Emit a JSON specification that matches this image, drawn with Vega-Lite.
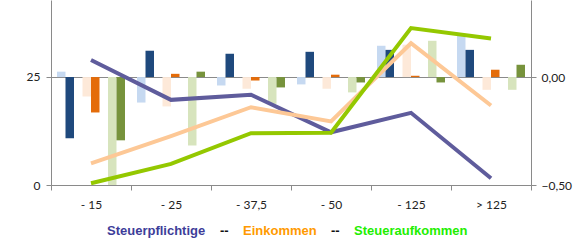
{
  "$schema": "https://vega.github.io/schema/vega-lite/v6.json",
  "width": 480,
  "height": 185,
  "autosize": {"type": "none"},
  "padding": {"left": 51, "top": 0, "right": 54, "bottom": 55},
  "config": {
    "view": {"stroke": null},
    "axis": {
      "domainColor": "#8a8a8a",
      "tickColor": "#8a8a8a",
      "gridColor": "#8a8a8a",
      "labelFont": "Lato",
      "labelFontSize": 12,
      "labelColor": "#222222",
      "tickSize": 5,
      "title": null
    }
  },
  "datasets": {
    "bars": [
      {"cat": "- 15", "series": "Steuerpflichtige 1", "value": 0.025},
      {"cat": "- 15", "series": "Steuerpflichtige 2", "value": -0.284},
      {"cat": "- 15", "series": "Einkommen 1", "value": -0.09},
      {"cat": "- 15", "series": "Einkommen 2", "value": -0.164},
      {"cat": "- 15", "series": "Steueraufkommen 1", "value": -0.5},
      {"cat": "- 15", "series": "Steueraufkommen 2", "value": -0.293},
      {"cat": "- 25", "series": "Steuerpflichtige 1", "value": -0.118},
      {"cat": "- 25", "series": "Steuerpflichtige 2", "value": 0.122},
      {"cat": "- 25", "series": "Einkommen 1", "value": -0.136},
      {"cat": "- 25", "series": "Einkommen 2", "value": 0.015},
      {"cat": "- 25", "series": "Steueraufkommen 1", "value": -0.317},
      {"cat": "- 25", "series": "Steueraufkommen 2", "value": 0.025},
      {"cat": "- 37,5", "series": "Steuerpflichtige 1", "value": -0.039},
      {"cat": "- 37,5", "series": "Steuerpflichtige 2", "value": 0.108},
      {"cat": "- 37,5", "series": "Einkommen 1", "value": -0.054},
      {"cat": "- 37,5", "series": "Einkommen 2", "value": -0.016},
      {"cat": "- 37,5", "series": "Steueraufkommen 1", "value": -0.124},
      {"cat": "- 37,5", "series": "Steueraufkommen 2", "value": -0.048},
      {"cat": "- 50", "series": "Steuerpflichtige 1", "value": -0.034},
      {"cat": "- 50", "series": "Steuerpflichtige 2", "value": 0.117},
      {"cat": "- 50", "series": "Einkommen 1", "value": -0.054},
      {"cat": "- 50", "series": "Einkommen 2", "value": 0.011},
      {"cat": "- 50", "series": "Steueraufkommen 1", "value": -0.071},
      {"cat": "- 50", "series": "Steueraufkommen 2", "value": -0.025},
      {"cat": "- 125", "series": "Steuerpflichtige 1", "value": 0.145},
      {"cat": "- 125", "series": "Steuerpflichtige 2", "value": 0.126},
      {"cat": "- 125", "series": "Einkommen 1", "value": 0.15},
      {"cat": "- 125", "series": "Einkommen 2", "value": 0.006},
      {"cat": "- 125", "series": "Steueraufkommen 1", "value": 0.168},
      {"cat": "- 125", "series": "Steueraufkommen 2", "value": -0.025},
      {"cat": "> 125", "series": "Steuerpflichtige 1", "value": 0.191},
      {"cat": "> 125", "series": "Steuerpflichtige 2", "value": 0.126},
      {"cat": "> 125", "series": "Einkommen 1", "value": -0.059},
      {"cat": "> 125", "series": "Einkommen 2", "value": 0.034},
      {"cat": "> 125", "series": "Steueraufkommen 1", "value": -0.059},
      {"cat": "> 125", "series": "Steueraufkommen 2", "value": 0.057}
    ],
    "lines": [
      {"cat": "- 15", "series": "Steuerpflichtige", "value": 28.9},
      {"cat": "- 25", "series": "Steuerpflichtige", "value": 19.7},
      {"cat": "- 37,5", "series": "Steuerpflichtige", "value": 20.9},
      {"cat": "- 50", "series": "Steuerpflichtige", "value": 12.2},
      {"cat": "- 125", "series": "Steuerpflichtige", "value": 16.7},
      {"cat": "> 125", "series": "Steuerpflichtige", "value": 1.55},
      {"cat": "- 15", "series": "Einkommen", "value": 5.0},
      {"cat": "- 25", "series": "Einkommen", "value": 11.3},
      {"cat": "- 37,5", "series": "Einkommen", "value": 18.0},
      {"cat": "- 50", "series": "Einkommen", "value": 14.7},
      {"cat": "- 125", "series": "Einkommen", "value": 32.8},
      {"cat": "> 125", "series": "Einkommen", "value": 18.4},
      {"cat": "- 15", "series": "Steueraufkommen", "value": 0.4},
      {"cat": "- 25", "series": "Steueraufkommen", "value": 4.9},
      {"cat": "- 37,5", "series": "Steueraufkommen", "value": 12.0},
      {"cat": "- 50", "series": "Steueraufkommen", "value": 12.1},
      {"cat": "- 125", "series": "Steueraufkommen", "value": 36.3},
      {"cat": "> 125", "series": "Steueraufkommen", "value": 33.9}
    ]
  },
  "layer": [
    {
      "data": {"name": "bars"},
      "mark": {"type": "bar"},
      "encoding": {
        "x": {
          "field": "cat", "type": "nominal",
          "sort": ["- 15", "- 25", "- 37,5", "- 50", "- 125", "> 125"],
          "scale": {"paddingInner": 0, "paddingOuter": 0},
          "axis": {"tickBand": "extent", "labelAngle": 0, "labelPadding": 9, "grid": false}
        },
        "xOffset": {
          "field": "series", "type": "nominal",
          "scale": {
            "domain": ["Steuerpflichtige 1", "Steuerpflichtige 2", "gap1", "Einkommen 1", "Einkommen 2", "gap2", "Steueraufkommen 1", "Steueraufkommen 2"],
            "paddingInner": 0, "paddingOuter": 0.706
          }
        },
        "y": {
          "field": "value", "type": "quantitative",
          "scale": {"domain": [-0.5, 0.357], "nice": false, "zero": false},
          "axis": {"orient": "right", "values": [-0.5, 0], "grid": false, "labelPadding": 5,
                   "labelExpr": "replace(format(datum.value, '.2f'), '.', ',')"}
        },
        "fill": {
          "field": "series", "type": "nominal", "legend": null,
          "scale": {
            "domain": ["Steuerpflichtige 1", "Steuerpflichtige 2", "Einkommen 1", "Einkommen 2", "Steueraufkommen 1", "Steueraufkommen 2"],
            "range": ["#c6d9f1", "#1f497d", "#fde9d9", "#e46c0a", "#d7e4bd", "#77933c"]
          }
        }
      }
    },
    {
      "data": {"name": "lines"},
      "mark": {"type": "line", "strokeWidth": 4},
      "encoding": {
        "x": {
          "field": "cat", "type": "nominal",
          "sort": ["- 15", "- 25", "- 37,5", "- 50", "- 125", "> 125"]
        },
        "y": {
          "field": "value", "type": "quantitative",
          "scale": {"domain": [0, 42.8], "nice": false},
          "axis": {"orient": "left", "values": [0, 25], "grid": true, "labelPadding": 6}
        },
        "color": {
          "field": "series", "type": "nominal",
          "scale": {
            "domain": ["Steuerpflichtige", "--", "Einkommen", "-- ", "Steueraufkommen"],
            "range": ["#5f5c9c", "#000000", "#fdc896", "#000000", "#94c800"]
          },
          "legend": {
            "orient": "none",
            "direction": "horizontal",
            "legendX": 43,
            "legendY": 224,
            "title": null,
            "padding": 0,
            "symbolSize": 0,
            "symbolOpacity": 0,
            "symbolStrokeWidth": 0,
            "labelOffset": 0,
            "columnPadding": 1,
            "labelFont": "Liberation Sans",
            "labelFontSize": 13,
            "labelFontWeight": "bold",
            "labelLimit": 300,
            "encode": {
              "labels": {
                "update": {
                  "fill": {"signal": "datum.value === 'Steuerpflichtige' ? '#3d3d99' : datum.value === 'Einkommen' ? '#ff9a00' : datum.value === 'Steueraufkommen' ? '#22ee00' : '#111111'"}
                }
              }
            }
          }
        }
      }
    }
  ],
  "resolve": {"scale": {"y": "independent"}}
}
